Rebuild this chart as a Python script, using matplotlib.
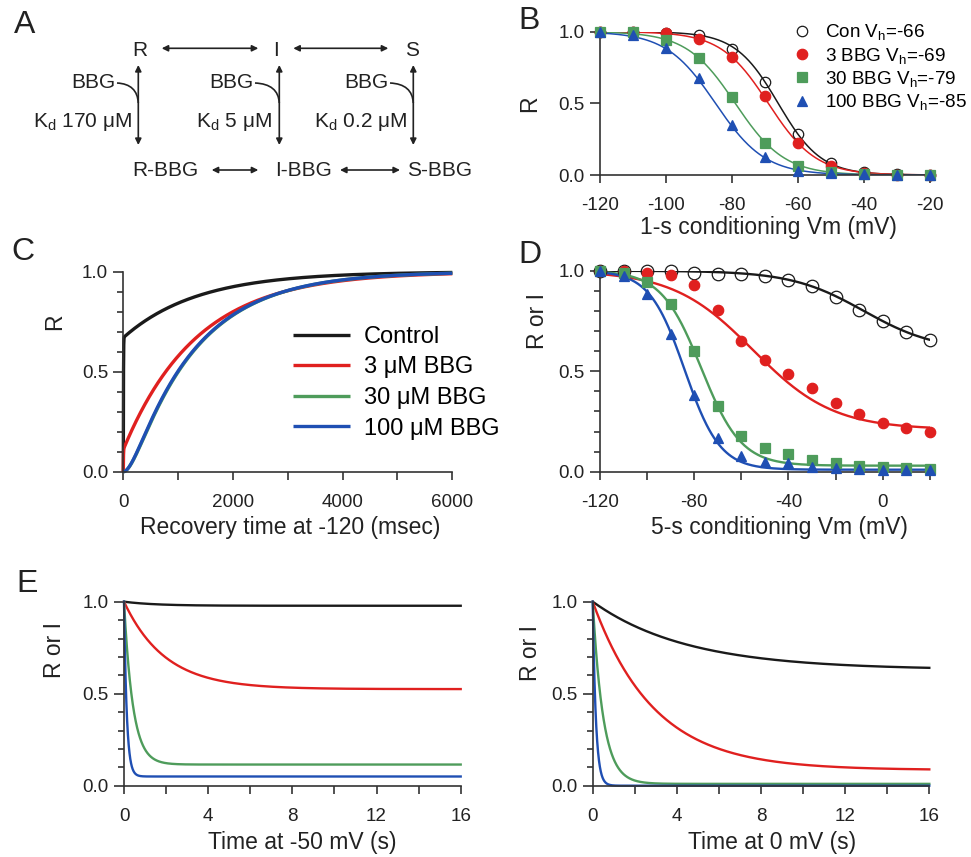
import numpy as np
import matplotlib.pyplot as plt
from matplotlib.patches import FancyArrowPatch, PathPatch
from matplotlib.path import Path
from matplotlib.ticker import MultipleLocator, FormatStrFormatter

plt.rcParams['font.family'] = ['Liberation Sans', 'DejaVu Sans']
plt.rcParams['mathtext.fontset'] = 'custom'
plt.rcParams['mathtext.rm'] = 'Liberation Sans'
plt.rcParams['mathtext.it'] = 'Liberation Sans:italic'
plt.rcParams['axes.unicode_minus'] = False

INK = '#222222'
AX = '#333333'
colors = ['#1a1a1a', '#e0201f', '#4e9c5b', '#1f4fb3']
TICK = 13.6
LAB = 16.5

# --- B: 1-s availability curves ---
vm_b = [-120, -110, -100, -90, -80, -70, -60, -50, -40, -30, -20]
r_con_b = [1.0, 0.995, 0.99, 0.977, 0.879, 0.651, 0.286, 0.081, 0.023, 0.005, 0.0]
r_3_b = [1.0, 0.995, 0.988, 0.947, 0.821, 0.551, 0.226, 0.065, 0.016, 0.003, 0.0]
r_30_b = [1.0, 0.995, 0.942, 0.814, 0.547, 0.226, 0.065, 0.023, 0.007, 0.002, 0.0]
r_100_b = [1.0, 0.977, 0.884, 0.674, 0.349, 0.123, 0.028, 0.012, 0.007, 0.002, 0.0]
vh_b = [-66, -69, -79, -85]
k_b = [6.5, 7.2, 7.4, 7.5]
labels_b = ['Con', '3 BBG', '30 BBG', '100 BBG']

# --- D: 5-s availability curves ---
vm_d = [-120, -110, -100, -90, -80, -70, -60, -50, -40, -30, -20, -10, 0, 10, 20]
r_con_d = [1.0, 1.0, 1.0, 1.0, 0.988, 0.985, 0.982, 0.972, 0.955, 0.922, 0.869,
           0.806, 0.750, 0.695, 0.657]
r_3_d = [1.0, 1.0, 0.99, 0.977, 0.927, 0.803, 0.651, 0.555, 0.485, 0.414, 0.343,
         0.286, 0.243, 0.215, 0.199]
r_30_d = [1.0, 0.99, 0.944, 0.836, 0.599, 0.326, 0.179, 0.116, 0.086, 0.058, 0.041,
          0.028, 0.022, 0.02, 0.015]
r_100_d = [1.0, 0.972, 0.882, 0.687, 0.384, 0.166, 0.078, 0.05, 0.041, 0.025, 0.02,
           0.015, 0.01, 0.01, 0.008]
# Boltzmann with residual: floor, Vh, slope
floor_d = [0.6, 0.21, 0.03, 0.01]
vh_d = [-8, -55, -77, -84]
k_d = [15.5, 17, 8.5, 7.5]

# --- C: recovery at -120 mV (ms) ---
labels_c = ['Control', '3 \u03bcM BBG', '30 \u03bcM BBG', '100 \u03bcM BBG']
fast_amp_c = [0.67, 0.11]          # instantaneous fraction, control and 3 uM
slow_tau_c = [1350, 1340]
lag_tau_c = [(1200, 160), (1200, 150)]  # (slow, lag) for 30 and 100 uM

# --- E: development at -50 mV and 0 mV (s) ---
ss_e50 = [0.978, 0.525, 0.115, 0.05]
tau_e50 = [1.5, 1.95, 0.42, 0.13]
ss_e0 = [0.63, 0.085, 0.01, 0.0]
tau_e0 = [4.5, 2.9, 0.5, 0.15]

W, H = 971, 857
fig = plt.figure(figsize=(W / 100, H / 100), dpi=100)


def px_axes(x0, y0, x1, y1):
    return fig.add_axes([x0 / W, 1 - y1 / H, (x1 - x0) / W, (y1 - y0) / H])


def style(ax, ylab, xlab, ylab_pos, xlab_pos, yminor=True):
    for s in ['top', 'right']:
        ax.spines[s].set_visible(False)
    for s in ['left', 'bottom']:
        ax.spines[s].set_color(AX)
        ax.spines[s].set_linewidth(1.2)
    ax.set_ylim(0, 1)
    ax.yaxis.set_major_locator(MultipleLocator(0.5))
    ax.yaxis.set_major_formatter(FormatStrFormatter('%.1f'))
    if yminor:
        ax.yaxis.set_minor_locator(MultipleLocator(0.1))
    ax.tick_params(axis='y', which='major', length=7, width=1.2, color=AX,
                   labelsize=TICK, labelcolor=INK, pad=4)
    ax.tick_params(axis='y', which='minor', length=4, width=1.2, color=AX)
    ax.tick_params(axis='x', which='both', length=5.5, width=1.2, color=AX,
                   labelsize=TICK, labelcolor=INK, pad=10.5)
    ax.set_ylabel(ylab, fontsize=LAB, color=INK, va='center')
    ax.yaxis.set_label_coords(*ylab_pos)
    ax.set_xlabel(xlab, fontsize=LAB, color=INK, va='center')
    ax.xaxis.set_label_coords(*xlab_pos)
    ax.patch.set_alpha(0)


def boltz(v, vh, k, floor=0.0):
    return floor + (1 - floor) / (1 + np.exp((v - vh) / k))


# ---------------- A: kinetic scheme ----------------
axa = fig.add_axes([0, 0, 1, 1], zorder=-1)
axa.set_xlim(0, W)
axa.set_ylim(H, 0)
axa.axis('off')

FS_A = 15
for txt, x in [('R', 140), ('I', 276), ('S', 411.7)]:
    axa.text(x, 50, txt, fontsize=FS_A, ha='center', va='center', color=INK)
for txt, x in [('R-BBG', 165), ('I-BBG', 303.5), ('S-BBG', 440)]:
    axa.text(x, 170, txt, fontsize=FS_A, ha='center', va='center', color=INK)
for x in [115, 253, 388]:
    axa.text(x, 82, 'BBG', fontsize=FS_A, ha='right', va='center', color=INK)
for txt, x in [('K$_\\mathrm{d}$ 170 \u03bcM', 132), ('K$_\\mathrm{d}$ 5 \u03bcM', 272),
               ('K$_\\mathrm{d}$ 0.2 \u03bcM', 407)]:
    axa.text(x, 121.7, txt, fontsize=FS_A, ha='right', va='center', color=INK)


def arrow(p0, p1):
    axa.add_patch(FancyArrowPatch(p0, p1, arrowstyle='<|-|>', mutation_scale=9,
                                  lw=1.2, color=INK, shrinkA=0, shrinkB=0))


arrow((161.7, 48.3), (258.3, 48.3))
arrow((293.3, 48.3), (388.3, 48.3))
arrow((211.7, 170), (258.3, 170))
arrow((340, 170), (400, 170))
for x in [138.3, 279.3, 413.3]:
    arrow((x, 65), (x, 145))
for x0, x1 in [(117, 138.3), (255, 279.3), (390, 413.3)]:
    path = Path([(x0, 83), (x1 - 1, 84), (x1, 103)],
                [Path.MOVETO, Path.CURVE3, Path.CURVE3])
    axa.add_patch(PathPatch(path, fc='none', ec=INK, lw=1.2))

# ---------------- B ----------------
axb = px_axes(600, 31.7, 930, 175)
vv = np.linspace(-120, -20, 400)
series_b = [r_con_b, r_3_b, r_30_b, r_100_b]
markers = ['o', 'o', 's', '^']
for i, ys in enumerate(series_b):
    axb.plot(vv, boltz(vv, vh_b[i], k_b[i]), color=colors[i], lw=1.1, zorder=2)
for i, ys in enumerate(series_b):
    face = 'none' if i == 0 else colors[i]
    axb.plot(vm_b, ys, ls='none', marker=markers[i], ms=7.5, mfc=face,
             mec=colors[i], mew=0.9, clip_on=False, zorder=3 + i,
             label=f'{labels_b[i]} V$_\\mathrm{{h}}$={vh_b[i]}')
axb.set_xlim(-120, -20)
axb.set_xticks(range(-120, -10, 20))
style(axb, 'R', '1-s conditioning Vm (mV)', (-0.212, 0.5), (0.509, -0.363), yminor=False)
axb.legend(loc='upper left', bbox_to_anchor=(793 / W, 1 - 22.5 / H),
           bbox_transform=fig.transFigure, frameon=False, fontsize=TICK,
           handlelength=1.0, handletextpad=0.7, labelspacing=0.17,
           borderpad=0, borderaxespad=0, numpoints=1)

# ---------------- C ----------------
axc = px_axes(123.3, 271.7, 452.3, 471.7)
t = np.linspace(0, 6000, 3000)
t = np.concatenate([[0.0], np.linspace(0, 40, 200), t[t > 40]])
lines_c = []
for i in range(2):
    y = 1 - fast_amp_c[i] * np.exp(-t / 3.0) - (1 - fast_amp_c[i]) * np.exp(-t / slow_tau_c[i])
    lines_c.append(y)
for t1, t2 in lag_tau_c:
    y = 1 - (t1 * np.exp(-t / t1) - t2 * np.exp(-t / t2)) / (t1 - t2)
    lines_c.append(y)
for i, y in enumerate(lines_c):
    axc.plot(t, y, color=colors[i], lw=2.4, label=labels_c[i], clip_on=False,
             solid_capstyle='butt')
axc.set_xlim(0, 6000)
axc.xaxis.set_major_locator(MultipleLocator(2000))
axc.xaxis.set_minor_locator(MultipleLocator(1000))
style(axc, 'R', 'Recovery time at -120 (msec)', (-0.21, 0.75), (0.507, -0.28))
axc.legend(loc='upper left', bbox_to_anchor=(293 / W, 1 - 326 / H),
           bbox_transform=fig.transFigure, frameon=False, fontsize=17,
           handlelength=2.4, handletextpad=0.6, labelspacing=0.36,
           borderpad=0, borderaxespad=0)

# ---------------- D ----------------
axd = px_axes(600, 270.7, 929.7, 471.7)
vv = np.linspace(-120, 20, 400)
series_d = [r_con_d, r_3_d, r_30_d, r_100_d]
for i, ys in enumerate(series_d):
    axd.plot(vv, boltz(vv, vh_d[i], k_d[i], floor_d[i]), color=colors[i], lw=1.7, zorder=2)
for i, ys in enumerate(series_d):
    face = 'none' if i == 0 else colors[i]
    axd.plot(vm_d, ys, ls='none', marker=markers[i], ms=9 if i == 0 else 7.5,
             mfc=face, mec=colors[i], mew=0.9, clip_on=False, zorder=3 + i)
axd.set_xlim(-120, 20)
axd.xaxis.set_major_locator(MultipleLocator(40))
axd.xaxis.set_minor_locator(MultipleLocator(20))
style(axd, 'R or I', '5-s conditioning Vm (mV)', (-0.19, 0.75), (0.545, -0.28))

# ---------------- E ----------------
te = np.linspace(0, 16, 3000)
for (x0, x1), ss, tau, xlab, ylpos, xlpos in [
        ((124, 460.7), ss_e50, tau_e50, 'Time at -50 mV (s)', (-0.205, 0.74), (0.529, -0.311)),
        ((592.7, 929.3), ss_e0, tau_e0, 'Time at 0 mV (s)', (-0.186, 0.72), (0.533, -0.311))]:
    ax = px_axes(x0, 601.7, x1, 785.7)
    for i in range(4):
        ax.plot(te, ss[i] + (1 - ss[i]) * np.exp(-te / tau[i]), color=colors[i],
                lw=1.7, clip_on=False)
    ax.set_xlim(0, 16)
    ax.xaxis.set_major_locator(MultipleLocator(4))
    ax.xaxis.set_minor_locator(MultipleLocator(2))
    style(ax, 'R or I', xlab, ylpos, xlpos)

# panel letters
for letter, x, y in [('A', 25, 25), ('B', 529, 21), ('C', 23, 252), ('D', 530, 255),
                     ('E', 27, 584)]:
    fig.text(x / W, 1 - y / H, letter, fontsize=23, ha='center', va='center', color=INK)

fig.savefig('out.png', dpi=100)
